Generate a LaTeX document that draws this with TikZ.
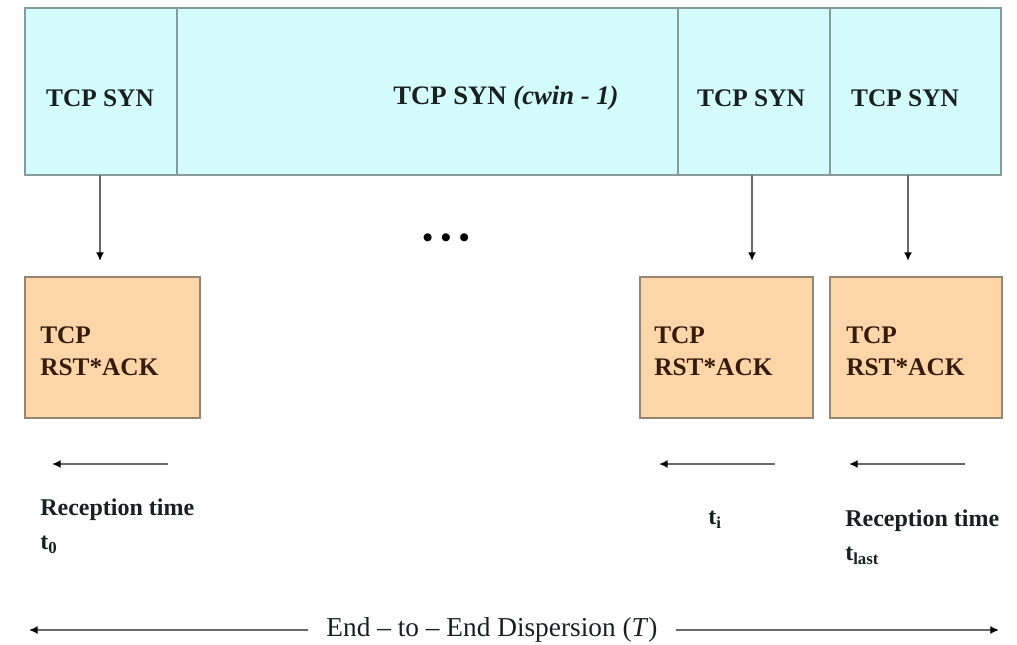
\documentclass[tikz,border=0pt]{standalone}
\usepackage{fontspec}
\setmainfont{Liberation Serif}
\usetikzlibrary{arrows.meta}

\definecolor{synfill}{RGB}{212,252,253}
\definecolor{synline}{RGB}{135,155,155}
\definecolor{rstfill}{RGB}{252,214,168}
\definecolor{rstline}{RGB}{150,135,115}
\definecolor{ink}{RGB}{25,32,32}
\definecolor{rstink}{RGB}{55,28,12}
\definecolor{arrline}{RGB}{105,105,105}

\newcommand\pxl[1]{#1*0.75pt}

\tikzset{
  synbox/.style={draw=synline, fill=synfill, line width=2.2pt, inner sep=0pt,
    outer sep=0pt, anchor=north west, minimum height=\pxl{167}},
  rstbox/.style={draw=rstline, fill=rstfill, line width=2.2pt, inner sep=0pt,
    outer sep=0pt, anchor=north west, minimum height=\pxl{141}},
  syntext/.style={text=ink, font=\fontsize{19}{22}\selectfont\bfseries, inner sep=0pt},
  rsttext/.style={text=rstink, font=\fontsize{19}{24}\selectfont\bfseries,
    align=left, anchor=west, inner sep=0pt},
  timetext/.style={text=ink, font=\fontsize{18}{26}\selectfont\bfseries,
    align=left, anchor=west, inner sep=0pt},
  arr/.style={draw=arrline, line width=1.5pt,
    -{Latex[length=6.5pt,width=6pt,color=black]}},
}

\begin{document}
\begin{tikzpicture}[x=0.75pt,y=-0.75pt]
\useasboundingbox (0,0) rectangle (1017,645);

% window of SYN probes
\node[synbox, minimum width=\pxl{152}] (c1) at (25,8) {};
\node[synbox, minimum width=\pxl{501}] (c2) at (177,8) {};
\node[synbox, minimum width=\pxl{152}] (c3) at (678,8) {};
\node[synbox, minimum width=\pxl{171}] (c4) at (830,8) {};

\node[syntext] (s1) at (100,98) {TCP SYN};
\node[syntext, font=\fontsize{20}{22}\selectfont\bfseries] (s2) at (506,98)
  {TCP SYN \textit{(cwin - 1)}};
\node[syntext] (s3) at (751,98) {TCP SYN};
\node[syntext] (s4) at (905,98) {TCP SYN};

% replies
\node[rstbox, minimum width=\pxl{175}] (b1) at (25,277) {};
\node[rstbox, minimum width=\pxl{173}] (b2) at (640,277) {};
\node[rstbox, minimum width=\pxl{172}] (b3) at (830,277) {};

\node[rsttext] (r1) at (40,351) {TCP\\RST*ACK};
\node[rsttext] (r2) at (654,351) {TCP\\RST*ACK};
\node[rsttext] (r3) at (846,351) {TCP\\RST*ACK};

% probe to reply
\coordinate (d1) at (100,261);
\coordinate (d2) at (752,261);
\coordinate (d3) at (908,261);
\draw[arr] (d1 |- c1.south) -- (d1);
\draw[arr] (d2 |- c3.south) -- (d2);
\draw[arr] (d3 |- c4.south) -- (d3);

% elided probes
\node[text=black, font=\fontsize{22}{22}\selectfont\bfseries, inner sep=0pt] (dots) at (446,241)
  {\textbullet\hspace{6pt}\textbullet\hspace{6pt}\textbullet};

% reception time markers
\coordinate (h1a) at (168,464); \coordinate (h1b) at (52,464);
\coordinate (h2a) at (775,464); \coordinate (h2b) at (659,464);
\coordinate (h3a) at (965,464); \coordinate (h3b) at (849,464);
\draw[arr] (h1a) -- (h1b);
\draw[arr] (h2a) -- (h2b);
\draw[arr] (h3a) -- (h3b);

\node[timetext] (t1) at (40,526) {Reception time\\t\textsubscript{0}};
\node[timetext] (t2) at (708,520) {t\textsubscript{i}};
\node[timetext] (t3) at (845,537) {Reception time\\t\textsubscript{last}};

% total dispersion
\node[text=ink, font=\fontsize{20.5}{22}\selectfont, inner sep=0pt] (disp) at (492,630)
  {End -- to -- End Dispersion (\textit{T})};
\coordinate (eL) at (29,630);
\coordinate (eR) at (999,630);
\draw[arr] ([xshift=-14pt]disp.west) -- (eL);
\draw[arr] ([xshift=14pt]disp.east) -- (eR);
\end{tikzpicture}
\end{document}
